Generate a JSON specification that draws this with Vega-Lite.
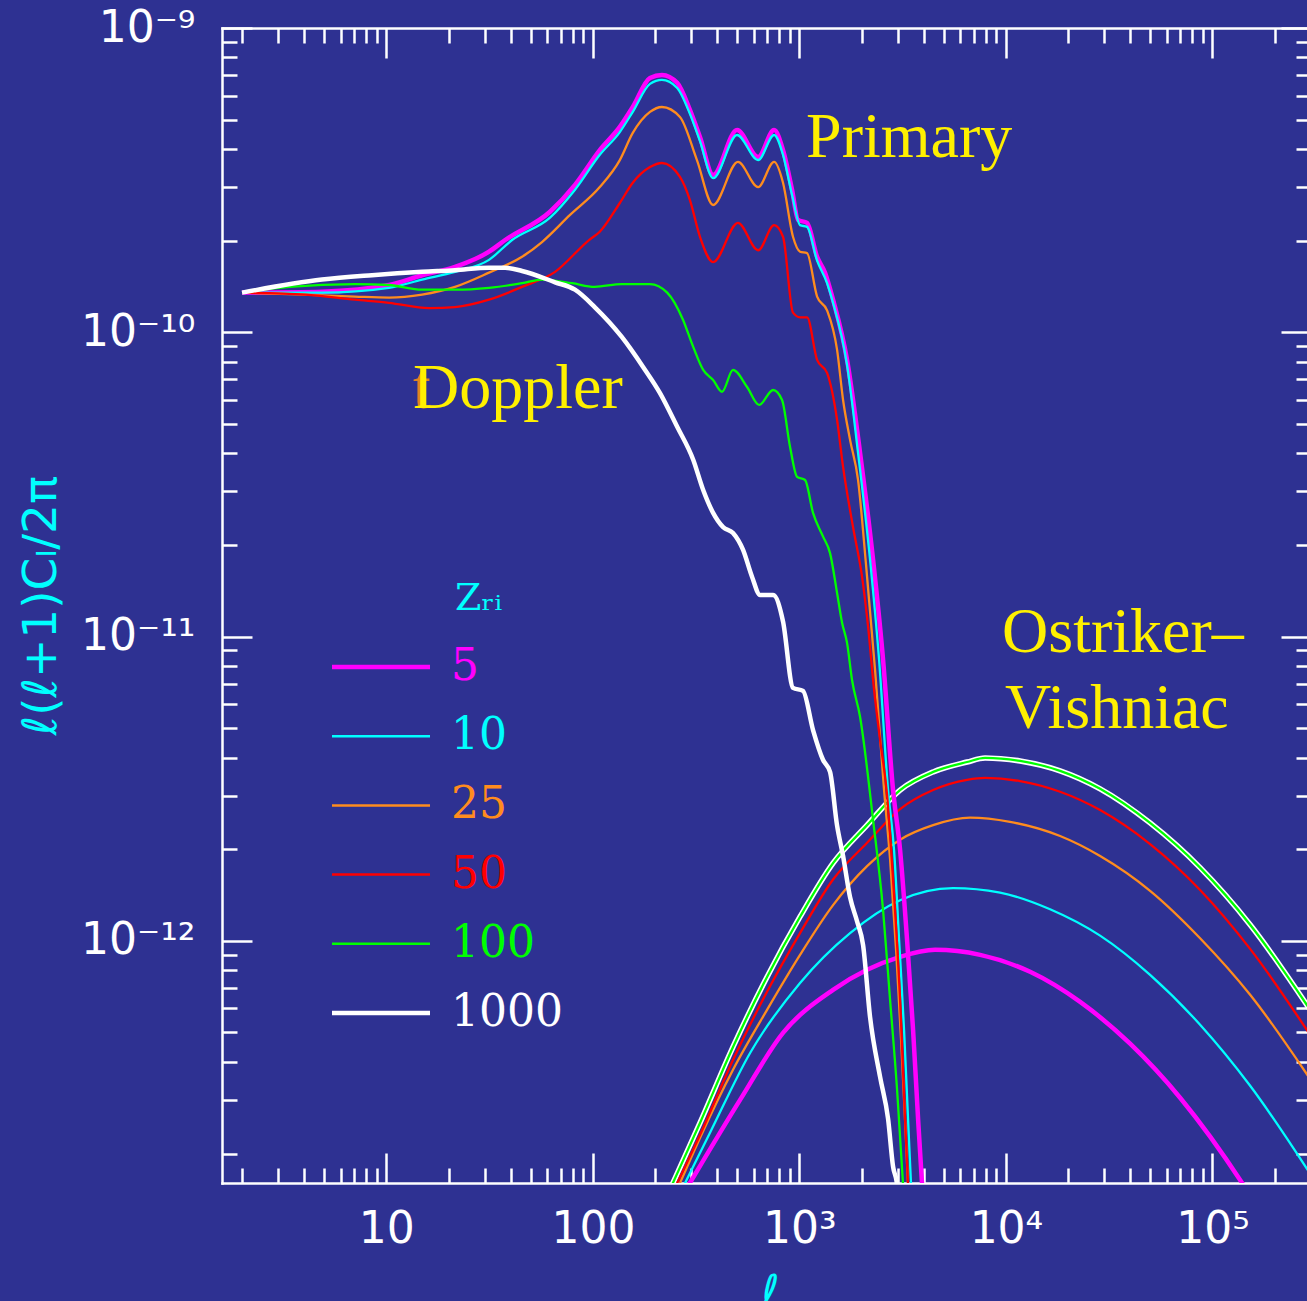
{
  "$schema": "https://vega.github.io/schema/vega-lite/v6.json",
  "width": 1089,
  "height": 1155,
  "autosize": "none",
  "padding": {"left": 222, "top": 28, "right": -4, "bottom": 118},
  "background": "#2E3192",
  "config": {
    "view": {"stroke": null},
    "axis": {
      "domainColor": "#FFFFFF", "domainWidth": 2.5, "domainCap": "square",
      "tickColor": "#FFFFFF", "tickWidth": 2.5,
      "labelColor": "#FFFFFF", "labelFont": "DejaVu Sans", "labelFontSize": 44,
      "labelOverlap": false, "labelFlush": false, "labelBound": false,
      "grid": false,
      "titleColor": "#00FFFF", "titleFont": "DejaVu Sans", "titleFontWeight": "normal"
    }
  },
  "datasets": {
    "primary": [
      {"z":"5","l":2,"C":1.35e-10},{"z":"5","l":4.88,"C":1.36e-10},{"z":"5","l":10.3,"C":1.43e-10},{"z":"5","l":14.9,"C":1.54e-10},{"z":"5","l":21.5,"C":1.64e-10},{"z":"5","l":31.4,"C":1.84e-10},{"z":"5","l":37.6,"C":2.01e-10},{"z":"5","l":62,"C":2.49e-10},{"z":"5","l":81.9,"C":3.05e-10},{"z":"5","l":108,"C":3.97e-10},{"z":"5","l":135,"C":4.73e-10},{"z":"5","l":156,"C":5.5e-10},{"z":"5","l":189,"C":6.85e-10},{"z":"5","l":216,"C":7.01e-10},{"z":"5","l":256,"C":6.6e-10},{"z":"5","l":295,"C":5.38e-10},{"z":"5","l":330,"C":4.38e-10},{"z":"5","l":382,"C":3.29e-10},{"z":"5","l":499,"C":4.62e-10},{"z":"5","l":631,"C":3.77e-10},{"z":"5","l":754,"C":4.62e-10},{"z":"5","l":833,"C":3.97e-10},{"z":"5","l":921,"C":2.94e-10},{"z":"5","l":985,"C":2.34e-10},{"z":"5","l":1089,"C":2.29e-10},{"z":"5","l":1218,"C":1.77e-10},{"z":"5","l":1331,"C":1.57e-10},{"z":"5","l":1455,"C":1.28e-10},{"z":"5","l":1701,"C":8.11e-11},{"z":"5","l":1967,"C":4.01e-11},{"z":"5","l":2273,"C":1.79e-11},{"z":"5","l":2542,"C":8.38e-12},{"z":"5","l":2841,"C":3.13e-12},{"z":"5","l":3072,"C":1.99e-12},{"z":"5","l":3320,"C":1.01e-12},{"z":"5","l":3551,"C":5.1e-13},{"z":"5","l":3755,"C":2.6e-13},{"z":"5","l":3926,"C":1.58e-13},{"z":"5","l":4105,"C":1.04e-13},
      {"z":"10","l":2,"C":1.35e-10},{"z":"10","l":4.88,"C":1.35e-10},{"z":"10","l":10.3,"C":1.4e-10},{"z":"10","l":14.9,"C":1.49e-10},{"z":"10","l":21.5,"C":1.58e-10},{"z":"10","l":31.4,"C":1.73e-10},{"z":"10","l":40.6,"C":2.01e-10},{"z":"10","l":62,"C":2.38e-10},{"z":"10","l":81.9,"C":2.94e-10},{"z":"10","l":108,"C":3.83e-10},{"z":"10","l":135,"C":4.55e-10},{"z":"10","l":156,"C":5.3e-10},{"z":"10","l":189,"C":6.55e-10},{"z":"10","l":216,"C":6.75e-10},{"z":"10","l":256,"C":6.35e-10},{"z":"10","l":295,"C":5.22e-10},{"z":"10","l":330,"C":4.25e-10},{"z":"10","l":382,"C":3.21e-10},{"z":"10","l":499,"C":4.45e-10},{"z":"10","l":631,"C":3.68e-10},{"z":"10","l":754,"C":4.45e-10},{"z":"10","l":833,"C":3.83e-10},{"z":"10","l":921,"C":2.83e-10},{"z":"10","l":1007,"C":2.25e-10},{"z":"10","l":1089,"C":2.22e-10},{"z":"10","l":1218,"C":1.72e-10},{"z":"10","l":1361,"C":1.45e-10},{"z":"10","l":1455,"C":1.25e-10},{"z":"10","l":1701,"C":7.81e-11},{"z":"10","l":1923,"C":4.01e-11},{"z":"10","l":2198,"C":1.79e-11},{"z":"10","l":2431,"C":8.38e-12},{"z":"10","l":2687,"C":3.13e-12},{"z":"10","l":2872,"C":1.99e-12},{"z":"10","l":3038,"C":1.01e-12},{"z":"10","l":3211,"C":5.1e-13},{"z":"10","l":3357,"C":2.6e-13},{"z":"10","l":3472,"C":1.58e-13},{"z":"10","l":3591,"C":1.04e-13},
      {"z":"25","l":2,"C":1.35e-10},{"z":"25","l":4.04,"C":1.33e-10},{"z":"25","l":7.05,"C":1.31e-10},{"z":"25","l":10.3,"C":1.3e-10},{"z":"25","l":14.9,"C":1.33e-10},{"z":"25","l":21.5,"C":1.41e-10},{"z":"25","l":31.4,"C":1.57e-10},{"z":"25","l":45.4,"C":1.77e-10},{"z":"25","l":56.7,"C":1.98e-10},{"z":"25","l":77.5,"C":2.43e-10},{"z":"25","l":108,"C":3e-10},{"z":"25","l":135,"C":3.68e-10},{"z":"25","l":156,"C":4.52e-10},{"z":"25","l":189,"C":5.3e-10},{"z":"25","l":216,"C":5.5e-10},{"z":"25","l":264,"C":5.1e-10},{"z":"25","l":319,"C":3.68e-10},{"z":"25","l":382,"C":2.62e-10},{"z":"25","l":504,"C":3.63e-10},{"z":"25","l":631,"C":3e-10},{"z":"25","l":754,"C":3.63e-10},{"z":"25","l":833,"C":3.1e-10},{"z":"25","l":931,"C":2.06e-10},{"z":"25","l":1007,"C":1.84e-10},{"z":"25","l":1089,"C":1.82e-10},{"z":"25","l":1218,"C":1.31e-10},{"z":"25","l":1361,"C":1.18e-10},{"z":"25","l":1522,"C":8.75e-11},{"z":"25","l":1627,"C":5.99e-11},{"z":"25","l":1759,"C":4.43e-11},{"z":"25","l":1923,"C":3.27e-11},{"z":"25","l":2102,"C":1.72e-11},{"z":"25","l":2324,"C":7.77e-12},{"z":"25","l":2570,"C":3.13e-12},{"z":"25","l":2748,"C":1.85e-12},{"z":"25","l":2938,"C":9.34e-13},{"z":"25","l":3106,"C":4.73e-13},{"z":"25","l":3247,"C":2.58e-13},{"z":"25","l":3357,"C":1.58e-13},{"z":"25","l":3472,"C":1.04e-13},
      {"z":"50","l":2,"C":1.35e-10},{"z":"50","l":4.04,"C":1.33e-10},{"z":"50","l":7.05,"C":1.28e-10},{"z":"50","l":10.3,"C":1.25e-10},{"z":"50","l":16.1,"C":1.2e-10},{"z":"50","l":21.5,"C":1.21e-10},{"z":"50","l":31.4,"C":1.28e-10},{"z":"50","l":45.4,"C":1.41e-10},{"z":"50","l":65.6,"C":1.58e-10},{"z":"50","l":95.8,"C":2.01e-10},{"z":"50","l":108,"C":2.14e-10},{"z":"50","l":135,"C":2.66e-10},{"z":"50","l":156,"C":3.1e-10},{"z":"50","l":189,"C":3.49e-10},{"z":"50","l":216,"C":3.6e-10},{"z":"50","l":264,"C":3.24e-10},{"z":"50","l":295,"C":2.72e-10},{"z":"50","l":330,"C":2.06e-10},{"z":"50","l":382,"C":1.7e-10},{"z":"50","l":504,"C":2.29e-10},{"z":"50","l":631,"C":1.86e-10},{"z":"50","l":754,"C":2.25e-10},{"z":"50","l":833,"C":2.06e-10},{"z":"50","l":931,"C":1.16e-10},{"z":"50","l":1007,"C":1.12e-10},{"z":"50","l":1089,"C":1.12e-10},{"z":"50","l":1218,"C":8.11e-11},{"z":"50","l":1361,"C":7.35e-11},{"z":"50","l":1522,"C":5.15e-11},{"z":"50","l":1627,"C":3.61e-11},{"z":"50","l":1818,"C":2.29e-11},{"z":"50","l":2011,"C":1.57e-11},{"z":"50","l":2150,"C":1.08e-11},{"z":"50","l":2299,"C":6.68e-12},{"z":"50","l":2458,"C":4.57e-12},{"z":"50","l":2657,"C":3.02e-12},{"z":"50","l":2841,"C":1.59e-12},{"z":"50","l":3072,"C":6.4e-13},{"z":"50","l":3247,"C":2.6e-13},{"z":"50","l":3357,"C":1.58e-13},{"z":"50","l":3434,"C":1.04e-13},
      {"z":"100","l":2,"C":1.35e-10},{"z":"100","l":3.38,"C":1.41e-10},{"z":"100","l":7.05,"C":1.44e-10},{"z":"100","l":10.3,"C":1.43e-10},{"z":"100","l":14.9,"C":1.38e-10},{"z":"100","l":21.5,"C":1.38e-10},{"z":"100","l":31.4,"C":1.4e-10},{"z":"100","l":45.4,"C":1.45e-10},{"z":"100","l":56.7,"C":1.49e-10},{"z":"100","l":79.3,"C":1.45e-10},{"z":"100","l":102,"C":1.41e-10},{"z":"100","l":138,"C":1.44e-10},{"z":"100","l":189,"C":1.44e-10},{"z":"100","l":229,"C":1.35e-10},{"z":"100","l":273,"C":1.1e-10},{"z":"100","l":306,"C":8.95e-11},{"z":"100","l":342,"C":7.52e-11},{"z":"100","l":382,"C":6.97e-11},{"z":"100","l":422,"C":6.37e-11},{"z":"100","l":477,"C":7.52e-11},{"z":"100","l":558,"C":6.61e-11},{"z":"100","l":638,"C":5.77e-11},{"z":"100","l":746,"C":6.46e-11},{"z":"100","l":824,"C":5.99e-11},{"z":"100","l":901,"C":4.2e-11},{"z":"100","l":974,"C":3.35e-11},{"z":"100","l":1065,"C":3.27e-11},{"z":"100","l":1164,"C":2.55e-11},{"z":"100","l":1302,"C":2.13e-11},{"z":"100","l":1407,"C":1.88e-11},{"z":"100","l":1522,"C":1.39e-11},{"z":"100","l":1609,"C":1.11e-11},{"z":"100","l":1701,"C":9.53e-12},{"z":"100","l":1798,"C":7.2e-12},{"z":"100","l":1967,"C":5.44e-12},{"z":"100","l":2273,"C":2.5e-12},{"z":"100","l":2542,"C":1.26e-12},{"z":"100","l":2748,"C":6.4e-13},{"z":"100","l":2971,"C":3.24e-13},{"z":"100","l":3176,"C":1.58e-13},{"z":"100","l":3283,"C":1.04e-13},
      {"z":"1000","l":2,"C":1.35e-10},{"z":"1000","l":4.88,"C":1.49e-10},{"z":"1000","l":8.52,"C":1.54e-10},{"z":"1000","l":14.9,"C":1.58e-10},{"z":"1000","l":21.5,"C":1.6e-10},{"z":"1000","l":31.4,"C":1.63e-10},{"z":"1000","l":37.6,"C":1.63e-10},{"z":"1000","l":45.4,"C":1.59e-10},{"z":"1000","l":65.6,"C":1.46e-10},{"z":"1000","l":81.9,"C":1.38e-10},{"z":"1000","l":102,"C":1.21e-10},{"z":"1000","l":138,"C":9.65e-11},{"z":"1000","l":175,"C":7.69e-11},{"z":"1000","l":211,"C":6.32e-11},{"z":"1000","l":256,"C":4.89e-11},{"z":"1000","l":306,"C":3.81e-11},{"z":"1000","l":342,"C":3.03e-11},{"z":"1000","l":382,"C":2.55e-11},{"z":"1000","l":427,"C":2.29e-11},{"z":"1000","l":477,"C":2.19e-11},{"z":"1000","l":533,"C":1.93e-11},{"z":"1000","l":590,"C":1.57e-11},{"z":"1000","l":645,"C":1.37e-11},{"z":"1000","l":746,"C":1.37e-11},{"z":"1000","l":833,"C":1.12e-11},{"z":"1000","l":931,"C":6.78e-12},{"z":"1000","l":1041,"C":6.63e-12},{"z":"1000","l":1164,"C":4.93e-12},{"z":"1000","l":1302,"C":3.93e-12},{"z":"1000","l":1407,"C":3.59e-12},{"z":"1000","l":1522,"C":2.39e-12},{"z":"1000","l":1627,"C":1.9e-12},{"z":"1000","l":1759,"C":1.39e-12},{"z":"1000","l":1901,"C":1.16e-12},{"z":"1000","l":2033,"C":9.7e-13},{"z":"1000","l":2198,"C":5.62e-13},{"z":"1000","l":2458,"C":3.57e-13},{"z":"1000","l":2687,"C":2.6e-13},{"z":"1000","l":2841,"C":1.81e-13},{"z":"1000","l":2971,"C":1.58e-13},{"z":"1000","l":3038,"C":1.04e-13}
    ],
    "ov": [
      {"z":"1000","l":179,"C":1e-13},{"z":"1000","l":244,"C":1.6e-13},{"z":"1000","l":330,"C":2.52e-13},{"z":"1000","l":477,"C":4.48e-13},{"z":"1000","l":697,"C":7.61e-13},{"z":"1000","l":1007,"C":1.2e-12},{"z":"1000","l":1455,"C":1.8e-12},{"z":"1000","l":2126,"C":2.4e-12},{"z":"1000","l":3072,"C":3.13e-12},{"z":"1000","l":4439,"C":3.59e-12},{"z":"1000","l":6483,"C":3.87e-12},{"z":"1000","l":7925,"C":3.99e-12},{"z":"1000","l":11710,"C":3.9e-12},{"z":"1000","l":18290,"C":3.62e-12},{"z":"1000","l":28570,"C":3.16e-12},{"z":"1000","l":49890,"C":2.44e-12},{"z":"1000","l":87120,"C":1.74e-12},{"z":"1000","l":152200,"C":1.13e-12},{"z":"1000","l":310600,"C":5.67e-13},
      {"z":"5","l":196,"C":1e-13},{"z":"5","l":295,"C":1.6e-13},{"z":"5","l":516,"C":3e-13},{"z":"5","l":833,"C":4.98e-13},{"z":"5","l":1455,"C":6.9e-13},{"z":"5","l":2126,"C":8.03e-13},{"z":"5","l":3072,"C":8.86e-13},{"z":"5","l":4539,"C":9.34e-13},{"z":"5","l":7497,"C":8.99e-13},{"z":"5","l":13090,"C":7.91e-13},{"z":"5","l":22870,"C":6.3e-13},{"z":"5","l":39930,"C":4.59e-13},{"z":"5","l":69710,"C":3.05e-13},{"z":"5","l":139200,"C":1.6e-13},{"z":"5","l":174000,"C":1.26e-13},
      {"z":"10","l":198,"C":1e-13},{"z":"10","l":279.5,"C":1.6e-13},{"z":"10","l":369,"C":2.34e-13},{"z":"10","l":577,"C":4.28e-13},{"z":"10","l":1007,"C":7.27e-13},{"z":"10","l":1759,"C":1.06e-12},{"z":"10","l":3072,"C":1.36e-12},{"z":"10","l":5546,"C":1.49e-12},{"z":"10","l":9368,"C":1.44e-12},{"z":"10","l":16360,"C":1.27e-12},{"z":"10","l":28570,"C":1.04e-12},{"z":"10","l":49890,"C":7.73e-13},{"z":"10","l":87120,"C":5.3e-13},{"z":"10","l":152200,"C":3.34e-13},{"z":"10","l":310600,"C":1.64e-13},
      {"z":"25","l":193,"C":1e-13},{"z":"25","l":264,"C":1.6e-13},{"z":"25","l":330,"C":2.25e-13},{"z":"25","l":477,"C":3.77e-13},{"z":"25","l":697,"C":5.93e-13},{"z":"25","l":1007,"C":8.99e-13},{"z":"25","l":1455,"C":1.31e-12},{"z":"25","l":2126,"C":1.76e-12},{"z":"25","l":3072,"C":2.15e-12},{"z":"25","l":4439,"C":2.4e-12},{"z":"25","l":6706,"C":2.54e-12},{"z":"25","l":10470,"C":2.46e-12},{"z":"25","l":18290,"C":2.21e-12},{"z":"25","l":28570,"C":1.9e-12},{"z":"25","l":49890,"C":1.46e-12},{"z":"25","l":87120,"C":1.02e-12},{"z":"25","l":152200,"C":6.65e-13},{"z":"25","l":310600,"C":3.36e-13},
      {"z":"50","l":183,"C":1e-13},{"z":"50","l":256,"C":1.6e-13},{"z":"50","l":330,"C":2.3e-13},{"z":"50","l":477,"C":4.06e-13},{"z":"50","l":697,"C":6.8e-13},{"z":"50","l":1007,"C":1.06e-12},{"z":"50","l":1455,"C":1.59e-12},{"z":"50","l":2126,"C":2.1e-12},{"z":"50","l":3072,"C":2.71e-12},{"z":"50","l":4439,"C":3.13e-12},{"z":"50","l":6483,"C":3.38e-12},{"z":"50","l":7925,"C":3.43e-12},{"z":"50","l":11710,"C":3.35e-12},{"z":"50","l":18290,"C":3.09e-12},{"z":"50","l":28570,"C":2.69e-12},{"z":"50","l":49890,"C":2.08e-12},{"z":"50","l":87120,"C":1.47e-12},{"z":"50","l":152200,"C":9.41e-13},{"z":"50","l":310600,"C":4.69e-13},
      {"z":"100","l":179,"C":1e-13},{"z":"100","l":244,"C":1.6e-13},{"z":"100","l":330,"C":2.52e-13},{"z":"100","l":477,"C":4.48e-13},{"z":"100","l":697,"C":7.61e-13},{"z":"100","l":1007,"C":1.2e-12},{"z":"100","l":1455,"C":1.8e-12},{"z":"100","l":2126,"C":2.4e-12},{"z":"100","l":3072,"C":3.13e-12},{"z":"100","l":4439,"C":3.59e-12},{"z":"100","l":6483,"C":3.87e-12},{"z":"100","l":7925,"C":3.99e-12},{"z":"100","l":11710,"C":3.9e-12},{"z":"100","l":18290,"C":3.62e-12},{"z":"100","l":28570,"C":3.16e-12},{"z":"100","l":49890,"C":2.44e-12},{"z":"100","l":87120,"C":1.74e-12},{"z":"100","l":152200,"C":1.13e-12},{"z":"100","l":310600,"C":5.67e-13}
    ],
    "notes": [
      {"kind":"stray","text":"t","l":13.46,"C":5.64e-11},
      {"kind":"label","text":"Primary","l":1077,"C":3.77e-10},
      {"kind":"label","text":"Doppler","l":13.46,"C":5.64e-11},
      {"kind":"label","text":"Ostriker–","l":9579,"C":8.9e-12},
      {"kind":"label","text":"Vishniac","l":9906,"C":5.01e-12}
    ]
  },
  "layer": [
    {
      "data": {"name": "ov"},
      "transform": [{"filter": "datum.z == '1000'"}],
      "mark": {"type": "line", "clip": true, "interpolate": "monotone", "strokeWidth": 5.5},
      "encoding": {
        "x": {
          "field": "l", "type": "quantitative",
          "scale": {"type": "log", "domain": [1.6, 300000], "nice": false},
          "axis": {
            "orient": "bottom",
            "values": [2,3,4,5,6,7,8,9,10,20,30,40,50,60,70,80,90,100,200,300,400,500,600,700,800,900,1000,2000,3000,4000,5000,6000,7000,8000,9000,10000,20000,30000,40000,50000,60000,70000,80000,90000,100000,200000],
            "tickSize": {"condition": {"test": "datum.value == 10 || datum.value == 100 || datum.value == 1000 || datum.value == 10000 || datum.value == 100000", "value": -30}, "value": -15},
            "labelExpr": "datum.value == 10 ? '10' : datum.value == 100 ? '100' : datum.value == 1000 ? '10³' : datum.value == 10000 ? '10⁴' : datum.value == 100000 ? '10⁵' : ''",
            "labelPadding": 54,
            "title": "ℓ", "titleFontSize": 44, "titleFontStyle": "italic",
            "titleX": 548, "titleY": 87, "titleBaseline": "top", "titleAlign": "center"
          }
        },
        "y": {
          "field": "C", "type": "quantitative",
          "scale": {"type": "log", "domain": [1.6e-13, 1e-9], "nice": false},
          "axis": {
            "orient": "left",
            "values": [2e-13,3e-13,4e-13,5e-13,6e-13,7e-13,8e-13,9e-13,1e-12,2e-12,3e-12,4e-12,5e-12,6e-12,7e-12,8e-12,9e-12,1e-11,2e-11,3e-11,4e-11,5e-11,6e-11,7e-11,8e-11,9e-11,1e-10,2e-10,3e-10,4e-10,5e-10,6e-10,7e-10,8e-10,9e-10,1e-9],
            "tickSize": {"condition": {"test": "datum.value == 1e-9 || datum.value == 1e-10 || datum.value == 1e-11 || datum.value == 1e-12", "value": -30}, "value": -15},
            "labelExpr": "datum.value == 1e-9 ? '10⁻⁹' : datum.value == 1e-10 ? '10⁻¹⁰' : datum.value == 1e-11 ? '10⁻¹¹' : datum.value == 1e-12 ? '10⁻¹²' : ''",
            "labelPadding": 57,
            "title": "ℓ(ℓ+1)Cₗ/2π", "titleFontSize": 47,
            "titleX": -157, "titleY": 577, "titleAngle": -90, "titleBaseline": "bottom", "titleAlign": "center"
          }
        },
        "color": {
          "field": "z", "type": "nominal",
          "scale": {"domain": ["5","10","25","50","100","1000"], "range": ["#FF00FF","#00FFFF","#FF8C1E","#FF0000","#00FF00","#FFFFFF"]},
          "legend": {
            "orient": "none", "legendX": 137, "legendY": 552, "padding": 0,
            "title": "Zᵣᵢ", "titleColor": "#00FFFF", "titleFont": "DejaVu Serif", "titleFontSize": 38, "titleFontWeight": "normal", "titlePadding": 27,
            "symbolType": "stroke", "symbolSize": 9604, "symbolStrokeWidth": 2.5,
            "labelFont": "DejaVu Serif", "labelFontSize": 44, "labelOffset": 48, "rowPadding": 25.2,
            "encode": {
              "labels": {"update": {"fill": {"signal": "scale('color', datum.value)"}}},
              "symbols": {"update": {"strokeWidth": {"signal": "datum.value == '5' || datum.value == '1000' ? 4.5 : 2.5"}}},
              "title": {"update": {"dx": {"value": 96}}}
            }
          }
        }
      }
    },
    {
      "data": {"name": "ov"},
      "transform": [{"filter": "datum.z != '1000'"}],
      "mark": {"type": "line", "clip": true, "interpolate": "monotone"},
      "encoding": {
        "x": {
          "field": "l", "type": "quantitative",
          "axis": {
            "orient": "top",
            "values": [2,3,4,5,6,7,8,9,10,20,30,40,50,60,70,80,90,100,200,300,400,500,600,700,800,900,1000,2000,3000,4000,5000,6000,7000,8000,9000,10000,20000,30000,40000,50000,60000,70000,80000,90000,100000,200000],
            "tickSize": {"condition": {"test": "datum.value == 10 || datum.value == 100 || datum.value == 1000 || datum.value == 10000 || datum.value == 100000", "value": -30}, "value": -15},
            "labels": false, "title": null
          }
        },
        "y": {
          "field": "C", "type": "quantitative",
          "axis": {
            "orient": "right",
            "values": [2e-13,3e-13,4e-13,5e-13,6e-13,7e-13,8e-13,9e-13,1e-12,2e-12,3e-12,4e-12,5e-12,6e-12,7e-12,8e-12,9e-12,1e-11,2e-11,3e-11,4e-11,5e-11,6e-11,7e-11,8e-11,9e-11,1e-10,2e-10,3e-10,4e-10,5e-10,6e-10,7e-10,8e-10,9e-10,1e-9],
            "tickSize": {"condition": {"test": "datum.value == 1e-9 || datum.value == 1e-10 || datum.value == 1e-11 || datum.value == 1e-12", "value": -30}, "value": -15},
            "labels": false, "title": null
          }
        },
        "color": {"field": "z", "type": "nominal"},
        "strokeWidth": {"condition": {"test": "datum.z == '5'", "value": 4.5}, "value": 2.3}
      }
    },
    {
      "data": {"name": "primary"},
      "mark": {"type": "line", "clip": true, "interpolate": "monotone"},
      "encoding": {
        "x": {"field": "l", "type": "quantitative", "axis": null},
        "y": {"field": "C", "type": "quantitative", "axis": null},
        "color": {"field": "z", "type": "nominal"},
        "strokeWidth": {"condition": {"test": "datum.z == '5' || datum.z == '1000'", "value": 4.5}, "value": 2.3}
      }
    },
    {
      "data": {"name": "notes"},
      "transform": [{"filter": "datum.kind == 'stray'"}],
      "mark": {"type": "text", "font": "Liberation Serif", "fontSize": 64, "align": "left", "baseline": "alphabetic", "color": "#E0861E"},
      "encoding": {
        "x": {"field": "l", "type": "quantitative", "axis": null},
        "y": {"field": "C", "type": "quantitative", "axis": null},
        "text": {"field": "text"}
      }
    },
    {
      "data": {"name": "notes"},
      "transform": [{"filter": "datum.kind == 'label'"}],
      "mark": {"type": "text", "font": "Liberation Serif", "fontSize": 64, "align": "left", "baseline": "alphabetic", "color": "#FFF000"},
      "encoding": {
        "x": {"field": "l", "type": "quantitative", "axis": null},
        "y": {"field": "C", "type": "quantitative", "axis": null},
        "text": {"field": "text"}
      }
    }
  ],
  "resolve": {"axis": {"x": "independent", "y": "independent"}}
}
